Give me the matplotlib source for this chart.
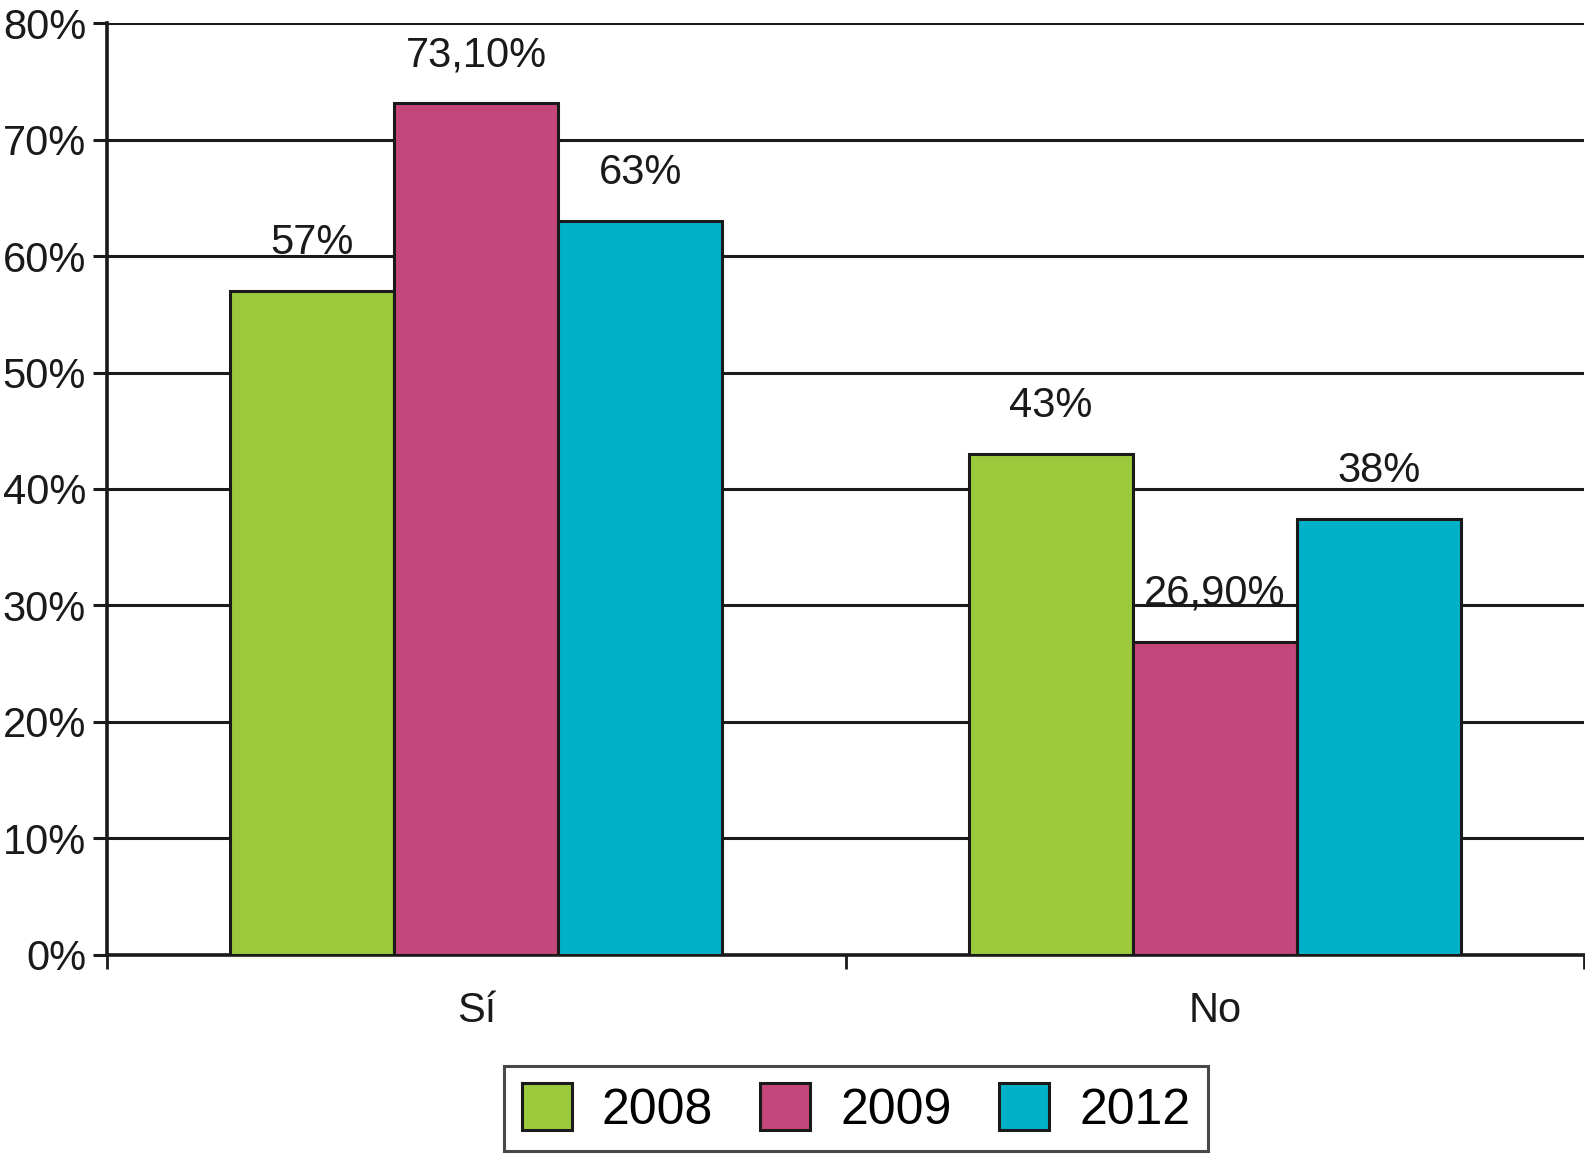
import matplotlib
matplotlib.use("Agg")
import matplotlib.pyplot as plt
import numpy as np

categories = ["Sí", "No"]
years = ["2008", "2009", "2012"]
values_2008 = [57.0, 43.0]
values_2009 = [73.1, 26.9]
values_2012 = [63.0, 37.4]
labels_2008 = ["57%", "43%"]
labels_2009 = ["73,10%", "26,90%"]
labels_2012 = ["63%", "38%"]
colors = ["#9ACA3C", "#C4467A", "#00B1C8"]
yticks = [0, 10, 20, 30, 40, 50, 60, 70, 80]
ytick_labels = ["0%", "10%", "20%", "30%", "40%", "50%", "60%", "70%", "80%"]

plt.rcParams['font.family'] = ['Liberation Sans', 'DejaVu Sans']

fig = plt.figure(figsize=(15.85, 11.56), dpi=100)
ax = fig.add_axes([0.0675, 0.174, 0.932, 0.806])

series = [values_2008, values_2009, values_2012]
series_labels = [labels_2008, labels_2009, labels_2012]
x = np.arange(len(categories))
w = 0.222
handles = []
for i, (vals, labs) in enumerate(zip(series, series_labels)):
    pos = x + (i - 1) * w
    bars = ax.bar(pos, vals, width=w, color=colors[i], edgecolor="#1a1a1a",
                  linewidth=2.2, zorder=3, label=years[i])
    handles.append(bars)
    for p, v, t in zip(pos, vals, labs):
        ax.annotate(t, (p, v), xytext=(0, 20), textcoords="offset points",
                    ha="center", va="bottom", fontsize=30, color="#1a1a1a")

ax.set_xlim(-0.5, 1.5)
ax.set_ylim(0, 80)
ax.set_yticks(yticks)
ax.set_yticklabels(ytick_labels, fontsize=30, color="#1a1a1a")
ax.set_xticks(x)
ax.set_xticklabels(categories, fontsize=30, color="#1a1a1a")
ax.tick_params(axis="x", which="major", length=0, pad=26)
ax.set_xticks([-0.5, 0.5, 1.5], minor=True)
ax.tick_params(axis="x", which="minor", length=10, width=2, color="#1a1a1a", direction="out")
ax.tick_params(axis="y", length=10, width=2.2, color="#1a1a1a", pad=5)

ax.grid(axis="y", color="#1a1a1a", linewidth=2.2, zorder=1)
ax.set_axisbelow(True)
for s in ["top", "right"]:
    ax.spines[s].set_visible(False)
ax.spines["left"].set_linewidth(2.6)
ax.spines["left"].set_color("#1a1a1a")
ax.spines["bottom"].set_linewidth(2.6)
ax.spines["bottom"].set_color("#1a1a1a")

leg = fig.legend(handles=handles, labels=years, loc="center",
                 bbox_to_anchor=(0.54, 0.041), ncol=3, fontsize=36,
                 frameon=True, fancybox=False, edgecolor="#1a1a1a",
                 handlelength=1.0, handleheight=1.05, handletextpad=0.6,
                 columnspacing=0.95, borderpad=0.35, borderaxespad=0)
leg.get_frame().set_linewidth(2.2)

fig.savefig("out.png", dpi=100, facecolor="white")
